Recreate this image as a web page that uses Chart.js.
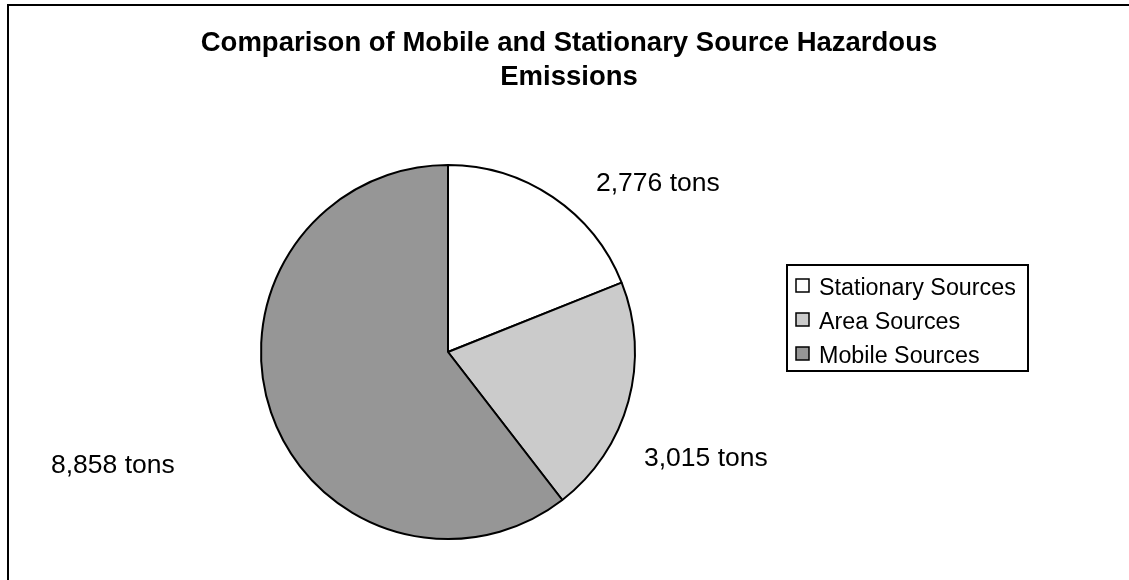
<!DOCTYPE html>
<html>
<head>
<meta charset="utf-8">
<script src="https://cdn.jsdelivr.net/npm/chart.js@4/dist/chart.umd.min.js"></script>
<style>
html,body{margin:0;padding:0;background:#fff;}
#wrap{position:relative;width:1129px;height:580px;}
</style>
</head>
<body>
<div id="wrap"><canvas id="c" width="1129" height="580"></canvas></div>
<script>
const titleLines = ["Comparison of Mobile and Stationary Source Hazardous", "Emissions"];
const categories = ["Stationary Sources", "Area Sources", "Mobile Sources"];
const emissionTons = [2776, 3015, 8858];
const sliceColors = ["#ffffff", "#cbcbcb", "#969696"];

const FONT = "Arial, 'Liberation Sans', sans-serif";

const framePlugin = {
  id: 'frame',
  beforeDraw(chart) {
    const ctx = chart.ctx;
    ctx.save();
    ctx.fillStyle = '#fff';
    ctx.fillRect(0, 0, chart.width, chart.height);
    ctx.strokeStyle = '#000';
    ctx.lineWidth = 2;
    ctx.strokeRect(8, 5, chart.width + 20, chart.height + 20);
    ctx.restore();
  }
};

const titlePlugin = {
  id: 'customTitle',
  afterDraw(chart, args, opts) {
    const ctx = chart.ctx;
    ctx.save();
    ctx.fillStyle = '#000';
    ctx.font = 'bold 27.5px ' + FONT;
    ctx.textAlign = 'center';
    ctx.textBaseline = 'alphabetic';
    opts.lines.forEach((t, i) => ctx.fillText(t, opts.cx, opts.y0 + i * opts.lh));
    ctx.restore();
  }
};

const valueLabelPlugin = {
  id: 'valueLabels',
  afterDatasetsDraw(chart, args, opts) {
    const ctx = chart.ctx;
    const meta = chart.getDatasetMeta(0);
    ctx.save();
    ctx.fillStyle = '#000';
    ctx.font = '26.5px ' + FONT;
    ctx.textAlign = 'left';
    ctx.textBaseline = 'alphabetic';
    meta.data.forEach((arc, i) => {
      const v = chart.data.datasets[0].data[i];
      const txt = v.toLocaleString('en-US') + ' tons';
      const off = opts.offsets[i];
      ctx.fillText(txt, arc.x + off[0], arc.y + off[1]);
    });
    ctx.restore();
  }
};

const legendPlugin = {
  id: 'boxLegend',
  afterDraw(chart, args, opts) {
    const ctx = chart.ctx;
    const ds = chart.data.datasets[0];
    ctx.save();
    ctx.strokeStyle = '#000';
    ctx.lineWidth = 2;
    ctx.fillStyle = '#fff';
    ctx.fillRect(opts.x, opts.y, opts.w, opts.h);
    ctx.strokeRect(opts.x, opts.y, opts.w, opts.h);
    ctx.font = '23.3px ' + FONT;
    ctx.textBaseline = 'alphabetic';
    chart.data.labels.forEach((lab, i) => {
      const by = opts.y + opts.firstBase + i * opts.step;
      ctx.fillStyle = ds.backgroundColor[i];
      ctx.lineWidth = 1.5;
      ctx.fillRect(opts.x + 9, by - 16, 13, 13);
      ctx.strokeRect(opts.x + 9, by - 16, 13, 13);
      ctx.fillStyle = '#000';
      ctx.fillText(lab, opts.x + 32, by);
    });
    ctx.restore();
  }
};

new Chart(document.getElementById('c'), {
  type: 'pie',
  data: {
    labels: categories,
    datasets: [{
      data: emissionTons,
      backgroundColor: sliceColors,
      borderColor: '#000',
      borderWidth: 2,
      borderAlign: 'center'
    }]
  },
  options: {
    responsive: false,
    animation: false,
    events: [],
    rotation: 0,
    layout: { padding: { left: 260, right: 493, top: 164, bottom: 40 } },
    plugins: {
      legend: { display: false },
      title: { display: false },
      tooltip: { enabled: false },
      customTitle: { lines: titleLines, cx: 569, y0: 51, lh: 34 },
      valueLabels: { offsets: [[148, -161], [196, 114], [-397, 121]] },
      boxLegend: { x: 787, y: 265, w: 241, h: 106, firstBase: 30, step: 34 }
    }
  },
  plugins: [framePlugin, titlePlugin, valueLabelPlugin, legendPlugin]
});
</script>
</body>
</html>
